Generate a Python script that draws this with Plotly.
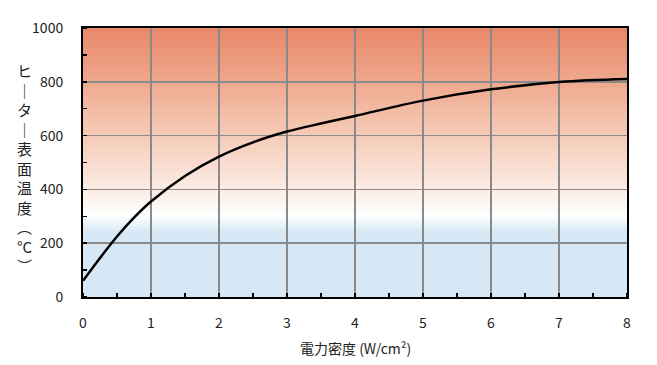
import plotly.graph_objects as go

# Curve data
power_density = [0, 0.25, 0.5, 0.75, 1, 1.5, 2, 2.5, 3, 3.5, 4, 5, 6, 7, 8]
surface_temp = [60, 145, 225, 295, 355, 450, 522, 575, 615, 645, 673, 730, 772, 799, 810]

x_ticks = [0, 1, 2, 3, 4, 5, 6, 7, 8]
y_ticks = [0, 200, 400, 600, 800, 1000]

x_title = "電力密度 (W/cm²)"
y_title_chars = ["ヒ", "｜", "タ", "｜", "表", "面", "温", "度", "︵", "°C", "︶"]

# background gradient (temperature level -> colour stop)
bg_stops = [0, 240, 300, 450, 650, 850, 1000]
bg_colors = ["#d6e8f6", "#d6e8f6", "#ffffff", "#fae3d8", "#f4c3ad", "#eda083", "#e8876a"]
bg_step = 5

font_family = "Noto Sans CJK JP, Noto Sans, sans-serif"


def hex_rgb(h):
    h = h.lstrip("#")
    return [int(h[i:i + 2], 16) for i in (0, 2, 4)]


def color_at(v):
    for i in range(len(bg_stops) - 1):
        a, b = bg_stops[i], bg_stops[i + 1]
        if a <= v <= b:
            t = 0 if b == a else (v - a) / (b - a)
            ca, cb = hex_rgb(bg_colors[i]), hex_rgb(bg_colors[i + 1])
            c = [round(ca[k] + (cb[k] - ca[k]) * t) for k in range(3)]
            return f"rgb({c[0]},{c[1]},{c[2]})"
    return bg_colors[-1]


# stacked bands: each band runs to the top, later bands paint over earlier ones (no seams)
shapes = []
for y0 in range(0, 1000, bg_step):
    shapes.append(dict(
        type="rect", xref="paper", yref="y", x0=0, x1=1, y0=y0, y1=1000,
        fillcolor=color_at(y0 + bg_step / 2), line=dict(width=0), layer="below",
    ))

fig = go.Figure()

fig.add_trace(go.Scatter(
    x=power_density, y=surface_temp,
    mode="lines",
    line=dict(color="black", width=2.5, shape="spline", smoothing=1.0),
    hoverinfo="skip",
))

axis_common = dict(
    showline=True, linecolor="black", linewidth=2, mirror=True,
    showgrid=True, gridcolor="#8a8a8a", gridwidth=1.5,
    zeroline=False, ticks="",
    tickfont=dict(family=font_family, size=14, color="#222"),
)

fig.update_xaxes(
    range=[0, 8], tickvals=x_ticks, ticktext=[str(t) for t in x_ticks],
    minor=dict(dtick=0.5, ticks="inside", ticklen=4, tickcolor="black", tickwidth=1.5, showgrid=False),
    ticklabelstandoff=12,
    **axis_common,
)
fig.update_yaxes(
    range=[0, 1000], tickvals=y_ticks, ticktext=[str(t) for t in y_ticks],
    minor=dict(dtick=100, ticks="inside", ticklen=4, tickcolor="black", tickwidth=1.5, showgrid=False),
    ticklabelstandoff=15,
    **axis_common,
)

fig.add_annotation(
    text=x_title, xref="paper", yref="paper", x=0.5, y=-0.19,
    xanchor="center", yanchor="middle", showarrow=False,
    font=dict(family=font_family, size=14, color="#222"),
)
fig.add_annotation(
    text="<br>".join(y_title_chars), xref="paper", yref="paper",
    x=-0.107, y=0.48, xanchor="center", yanchor="middle", showarrow=False,
    font=dict(family=font_family, size=15, color="#222"),
)

fig.update_layout(
    width=657, height=365,
    margin=dict(l=83, r=30, t=28, b=68),
    paper_bgcolor="white", plot_bgcolor="white",
    showlegend=False,
    shapes=shapes,
)

fig.write_html(
    "out.html",
    config={"displayModeBar": False, "staticPlot": True},
    post_script="document.body.style.margin='0';",
)
